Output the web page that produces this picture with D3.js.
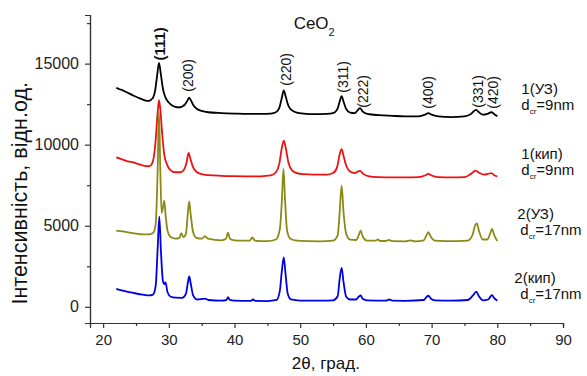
<!DOCTYPE html>
<html>
<head>
<meta charset="utf-8">
<script src="https://cdn.jsdelivr.net/npm/d3@7/dist/d3.min.js"></script>
<style>
  body { margin: 0; background: #fff; }
  svg { display: block; font-family: "Liberation Sans", Arial, sans-serif; }
</style>
</head>
<body>
<svg id="chart" width="587" height="376"></svg>
<script>
// XRD patterns of CeO2, [2theta, intensity] (curves already offset)
const black1US = [[22,13500],[22.5,13420],[23,13350],[23.5,13250],[24,13150],[24.5,13050],[25,12960],[25.5,12870],[26,12790],[26.5,12720],[27,12700],[27.3,12780],[27.6,12900],[27.9,13300],[28.2,14200],[28.5,15050],[28.8,14300],[29.1,13450],[29.5,12900],[30,12600],[30.5,12420],[31,12330],[31.5,12300],[32,12350],[32.5,12500],[32.8,12700],[33.1,12900],[33.4,12700],[33.8,12400],[34.3,12200],[35,12080],[36,12000],[38,11950],[40,11920],[42,11900],[44,11900],[45.5,11920],[46.3,12000],[46.8,12250],[47.2,12900],[47.5,13350],[47.8,12950],[48.2,12400],[48.8,12100],[49.5,11980],[50.5,11920],[52,11880],[54,11900],[55,11950],[55.6,12150],[56,12650],[56.3,13000],[56.6,12650],[57,12200],[57.6,11980],[58.3,11950],[58.8,12150],[59.1,12250],[59.5,12050],[60.2,11900],[62,11820],[64,11780],[66,11750],[68,11750],[69,11850],[69.5,11950],[70,11850],[71,11750],[73,11700],[75,11750],[76,11900],[76.5,12100],[76.8,12150],[77.2,12000],[77.8,11850],[78.5,11900],[79.1,12000],[79.5,11900],[80,11750]];
const red1Boil = [[22,9220],[22.5,9150],[23,9080],[23.5,9000],[24,8950],[24.5,8920],[25,8850],[25.5,8780],[26,8720],[26.5,8680],[27,8680],[27.4,8800],[27.7,9200],[28,10300],[28.3,12000],[28.5,12750],[28.7,12200],[29,10600],[29.3,9400],[29.7,8800],[30.2,8450],[31,8300],[31.8,8300],[32.3,8450],[32.7,8900],[33,9500],[33.3,9100],[33.7,8600],[34.3,8300],[35,8180],[36,8120],[38,8080],[40,8060],[42,8050],[44,8050],[45.5,8100],[46.3,8300],[46.8,8800],[47.2,9800],[47.5,10250],[47.8,9800],[48.2,8900],[48.8,8400],[49.5,8250],[50.5,8180],[52,8150],[54,8150],[55,8250],[55.6,8600],[56,9400],[56.3,9730],[56.6,9300],[57,8700],[57.6,8350],[58.3,8250],[58.8,8350],[59.1,8380],[59.6,8200],[60.5,8050],[62,8000],[64,7980],[66,7980],[68,8000],[69,8100],[69.5,8200],[70,8100],[71,8000],[73,7980],[75,8000],[76,8200],[76.7,8400],[77.3,8250],[78,8150],[78.6,8200],[79.1,8250],[79.6,8100],[80,8050]];
const olive2US = [[22,4700],[23,4650],[24,4580],[25,4520],[26,4470],[27,4470],[27.6,4550],[28,5100],[28.3,8500],[28.5,12000],[28.7,8500],[28.9,5800],[29.1,6100],[29.3,6550],[29.5,5700],[29.8,4700],[30.3,4300],[31,4200],[31.6,4250],[31.9,4550],[32.2,4300],[32.6,4500],[32.9,5800],[33.1,6500],[33.3,5800],[33.7,4600],[34.2,4250],[35,4200],[35.5,4350],[36,4200],[37,4130],[38,4100],[38.7,4200],[39,4580],[39.3,4200],[40,4100],[41,4080],[42.3,4080],[42.7,4280],[43.1,4080],[44,4050],[45,4050],[46.3,4150],[46.9,4800],[47.2,6500],[47.45,8500],[47.7,6500],[48,4700],[48.5,4200],[49.5,4080],[51,4050],[53,4040],[55,4080],[55.7,4400],[56,5800],[56.3,7480],[56.6,5800],[57,4500],[57.6,4150],[58.5,4120],[58.9,4400],[59.2,4700],[59.5,4350],[60.2,4080],[61.5,4080],[61.8,4150],[62.2,4060],[63,4060],[63.5,4120],[64,4050],[66,4040],[66.8,4100],[67.5,4040],[68.8,4100],[69.2,4400],[69.5,4600],[69.9,4300],[70.5,4080],[72,4050],[74,4050],[75.5,4080],[76.2,4400],[76.6,5000],[76.9,5150],[77.2,4700],[77.8,4150],[78.5,4150],[78.9,4500],[79.2,4800],[79.5,4450],[80,4050]];
const blue2Boil = [[22,1100],[23,1000],[24,900],[25,820],[26,750],[27,700],[27.6,750],[28,1300],[28.3,3600],[28.55,5560],[28.8,3400],[29.1,1600],[29.3,1400],[29.5,1500],[29.8,900],[30.3,620],[31,560],[32,550],[32.6,800],[32.9,1500],[33.1,1870],[33.35,1400],[33.7,700],[34.3,450],[35.5,500],[36,420],[38,380],[38.8,430],[39,600],[39.3,420],[40,380],[42.5,360],[42.8,450],[43.2,360],[45,350],[46.4,420],[46.9,1000],[47.2,2200],[47.5,3040],[47.75,2100],[48.1,800],[48.6,450],[50,380],[53,380],[55,400],[55.7,650],[56,1700],[56.3,2400],[56.6,1500],[57,620],[57.6,450],[58.5,450],[58.9,620],[59.2,700],[59.5,500],[60.2,400],[63,380],[63.6,450],[64,380],[66,370],[68.8,420],[69.2,600],[69.5,680],[69.9,500],[70.5,400],[73,380],[75.5,420],[76.3,700],[76.8,930],[77.2,650],[77.8,400],[78.6,450],[79,650],[79.2,720],[79.5,550],[80,370]];

const seriesColors = ['#000000', '#ee1111', '#8a8a14', '#0000e6'];
const seriesData = [black1US, red1Boil, olive2US, blue2Boil];

// Miller indices: [label, 2theta, intensity at bottom of label]
const peakLabels = [['(111)', 28.6, 15190], ['(200)', 33.0, 13270], ['(220)', 47.9, 13640], ['(311)', 56.5, 13210],
  ['(222)', 59.55, 12280], ['(400)', 69.5, 12220], ['(331)', 77.1, 12280], ['(420)', 79.35, 12220]];

// sample labels: [name, crystallite size, intensity of first line]
const sampleLabels = [['1(УЗ)', '=9nm', 13100], ['1(кип)', '=9nm', 9130], ['2(УЗ)', '=17nm', 5420], ['2(кип)', '=17nm', 1460]];
const labelShift = [[24, 0], [24, 0], [20, 3], [17, 6]];

const xTicks = [20, 30, 40, 50, 60, 70, 80, 90];
const yTicks = [0, 5000, 10000, 15000];

const svg = d3.select('#chart');
const margin = { left: 90, top: 15, right: 24, bottom: 53 };
const width = 587 - margin.left - margin.right;
const height = 376 - margin.top - margin.bottom;

const x = d3.scaleLinear().domain([18, 90]).range([0, width]);
const y = d3.scaleLinear().domain([-1000, 18000]).range([height, 0]);

const g = svg.append('g').attr('transform', `translate(${margin.left},${margin.top})`);

// axes
g.append('g')
  .attr('class', 'xmaj')
  .attr('transform', `translate(0,${height})`)
  .call(d3.axisBottom(x).tickValues(xTicks).tickSize(5).tickPadding(6).tickFormat(d3.format('d')));
g.append('g')
  .attr('transform', `translate(0,${height})`)
  .call(d3.axisBottom(x).tickValues(d3.range(25, 90, 10)).tickSize(3).tickFormat(''));
g.append('g')
  .attr('class', 'ymaj')
  .call(d3.axisLeft(y).tickValues(yTicks).tickSize(5).tickPadding(6).tickFormat(d3.format('d')));
g.append('g')
  .call(d3.axisLeft(y).tickValues([2500, 7500, 12500, 17500]).tickSize(3).tickFormat(''));

g.selectAll('.domain').attr('stroke', '#333').attr('stroke-width', 1.2);
g.selectAll('.tick line').attr('stroke', '#333').attr('stroke-width', 1.2);
g.selectAll('.xmaj .tick text').style('font-size', '15px').attr('fill', '#222');
g.selectAll('.ymaj .tick text').style('font-size', '16px').attr('fill', '#222');

// curves
const line = d3.line().x(d => x(d[0])).y(d => y(d[1])).curve(d3.curveMonotoneX);
g.selectAll('path.xrd')
  .data(seriesData)
  .enter()
  .append('path')
  .attr('class', 'xrd')
  .attr('d', line)
  .attr('fill', 'none')
  .attr('stroke', (d, i) => seriesColors[i])
  .attr('stroke-width', 1.8)
  .attr('stroke-linejoin', 'round');

// peak labels
g.selectAll('text.peak')
  .data(peakLabels)
  .enter()
  .append('text')
  .attr('class', 'peak')
  .attr('transform', d => `translate(${x(d[1])},${y(d[2])}) rotate(-90)`)
  .attr('dy', '0.35em')
  .style('font-size', d => d[0] === '(111)' ? '15px' : '14px')
  .style('font-weight', d => d[0] === '(111)' ? 'bold' : 'normal')
  .attr('fill', '#111')
  .text(d => d[0]);

// sample labels
const sl = g.selectAll('g.sample')
  .data(sampleLabels)
  .enter()
  .append('g')
  .attr('class', 'sample')
  .attr('transform', (d, i) => `translate(${x(80) + labelShift[i][0]},${y(d[2])})`);
sl.append('text')
  .style('font-size', '15px')
  .attr('fill', '#111')
  .text(d => d[0]);
const dl = sl.append('text')
  .attr('x', (d, i) => labelShift[i][1])
  .attr('y', 16)
  .style('font-size', '15px')
  .attr('fill', '#111');
dl.append('tspan').text('d');
dl.append('tspan').attr('dy', 4).style('font-size', '8px').text('cr');
dl.append('tspan').attr('dy', -4).text(d => d[1]);

// title
const title = g.append('text')
  .attr('x', x(49.0))
  .attr('y', 14)
  .style('font-size', '17px')
  .attr('fill', '#111');
title.append('tspan').text('CeO');
title.append('tspan').attr('dy', 7).style('font-size', '11px').text('2');

// axis titles
svg.append('text')
  .attr('transform', `translate(27,${margin.top + y(7000)}) rotate(-90)`)
  .attr('text-anchor', 'middle')
  .style('font-size', '21.5px')
  .attr('fill', '#111')
  .text('Інтенсивність, відн.од.');
svg.append('text')
  .attr('x', margin.left + x(53.9))
  .attr('y', 369)
  .attr('text-anchor', 'middle')
  .style('font-size', '17px')
  .attr('fill', '#111')
  .text('2θ, град.');
</script>
</body>
</html>
